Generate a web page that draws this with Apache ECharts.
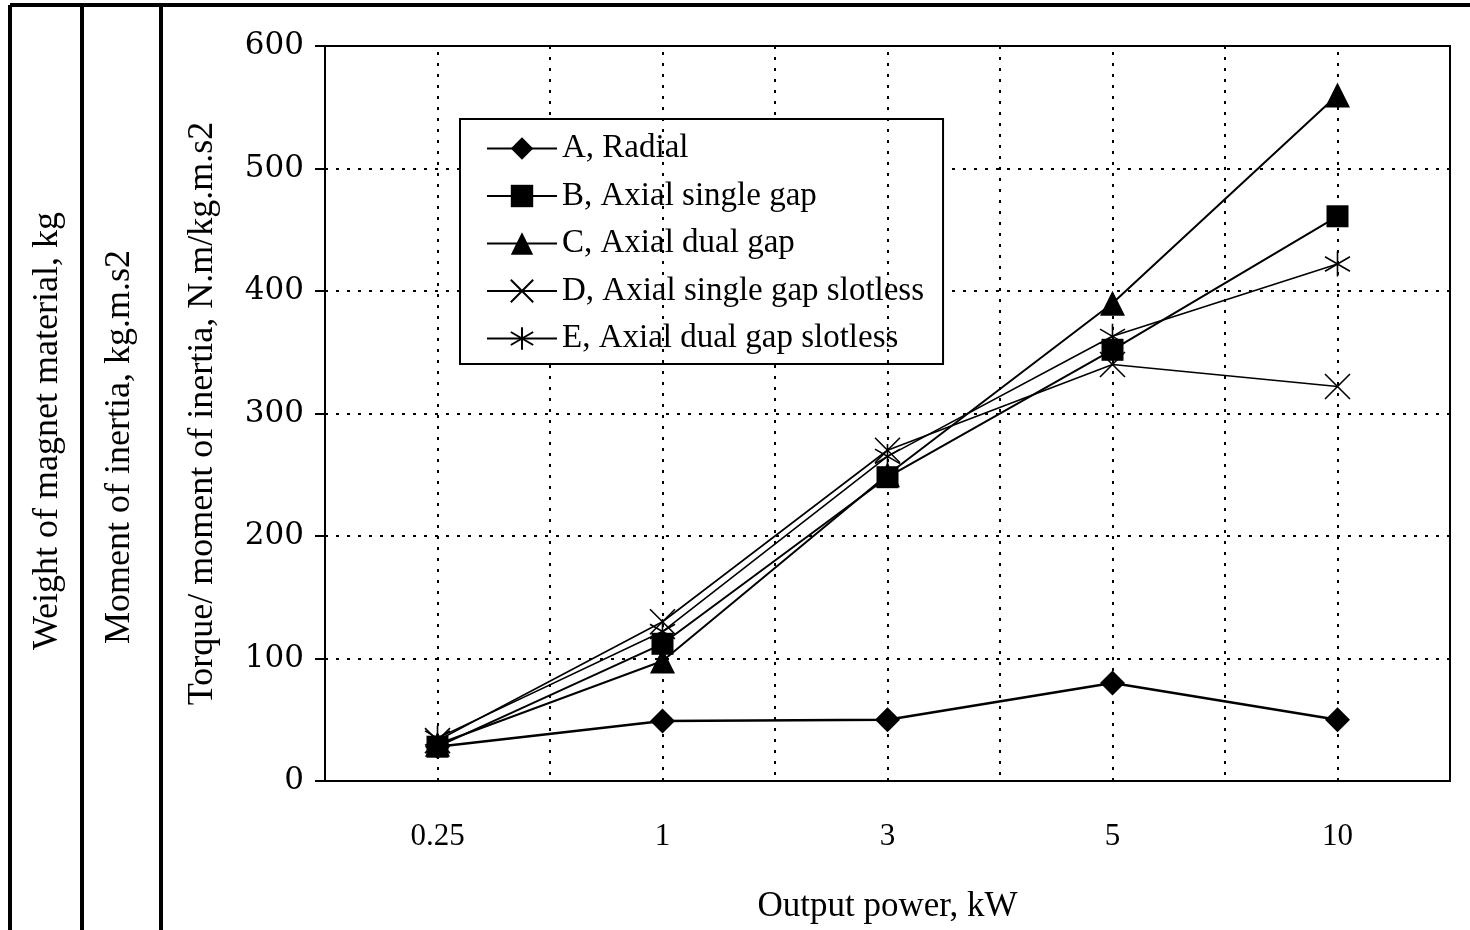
<!DOCTYPE html>
<html>
<head>
<meta charset="utf-8">
<script src="https://cdn.jsdelivr.net/npm/echarts@6/dist/echarts.min.js"></script>
<style>
  html, body { margin: 0; padding: 0; background: #fff; }
  #chart { width: 1470px; height: 930px; }
</style>
</head>
<body>
<div id="chart"></div>
<script>
const powers = ['0.25', '1', '3', '5', '10']
const radial = [28, 49, 50, 80, 50]
const axialSingle = [28, 112, 248, 352, 461]
const axialDual = [30, 98, 250, 390, 560]
const singleSlotless = [33, 130, 270, 340, 322]
const dualSlotless = [35, 122, 265, 363, 422]
const yTicks = [0, 100, 200, 300, 400, 500, 600]

const serif = 'Liberation Serif'
const dots = [3, 8]
const crossPath = 'path://M0 0 L10 10 M10 0 L0 10'
const starPath = 'path://M5 0 L5 10 M0 2.1 L10 7.9 M0 7.9 L10 2.1'

const chart = echarts.init(document.getElementById('chart'))

function lineSeries(name, data, symbol, size, width, extra) {
  return Object.assign({
    name: name,
    type: 'line',
    data: data,
    symbol: symbol,
    symbolSize: size,
    showSymbol: true,
    lineStyle: { color: '#000', width: width },
    itemStyle: { color: '#000', borderColor: '#000', borderWidth: 0 }
  }, extra || {})
}

const option = {
  animation: false,
  backgroundColor: '#fff',
  grid: {
    left: 325, right: 20, top: 46, bottom: 149,
    show: true, borderColor: '#000', borderWidth: 2
  },
  legend: {
    orient: 'vertical',
    left: 460, top: 119,
    padding: [13, 19, 9, 26],
    itemWidth: 70, itemHeight: 28, itemGap: 14.5,
    backgroundColor: '#fff', borderColor: '#000', borderWidth: 2,
    textStyle: { fontFamily: serif, fontSize: 33, color: '#000' }
  },
  xAxis: {
    type: 'category',
    data: powers,
    boundaryGap: true,
    name: 'Output power, kW',
    nameLocation: 'middle',
    nameGap: 108,
    nameTextStyle: { fontFamily: serif, fontSize: 35, color: '#000' },
    axisLine: { lineStyle: { color: '#000', width: 2 } },
    axisTick: { length: 12, lineStyle: { color: '#000', width: 2 } },
    axisLabel: { margin: 40, fontFamily: serif, fontSize: 31, color: '#000' },
    splitLine: { show: true, lineStyle: { color: '#000', width: 2, type: dots } }
  },
  yAxis: {
    type: 'value',
    min: yTicks[0], max: yTicks[yTicks.length - 1], interval: 100,
    name: 'Torque/ moment of inertia, N.m/kg.m.s2',
    nameLocation: 'middle',
    nameGap: 104,
    nameTextStyle: { fontFamily: serif, fontSize: 36, color: '#000' },
    axisLine: { show: true, lineStyle: { color: '#000', width: 2 } },
    axisTick: { show: true, length: 10, lineStyle: { color: '#000', width: 2 } },
    axisLabel: { margin: 21, fontFamily: 'DejaVu Serif', fontSize: 31, color: '#000' },
    splitLine: { show: true, lineStyle: { color: '#000', width: 2, type: dots } }
  },
  graphic: [
    { type: 'line', shape: { x1: 10, y1: 5, x2: 1470, y2: 5 }, style: { stroke: '#000', lineWidth: 4 } },
    { type: 'line', shape: { x1: 10, y1: 5, x2: 10, y2: 930 }, style: { stroke: '#000', lineWidth: 4 } },
    { type: 'line', shape: { x1: 82, y1: 5, x2: 82, y2: 930 }, style: { stroke: '#000', lineWidth: 4 } },
    { type: 'line', shape: { x1: 161, y1: 5, x2: 161, y2: 930 }, style: { stroke: '#000', lineWidth: 4 } },
    {
      type: 'text', x: 48, y: 431, rotation: Math.PI / 2,
      style: { text: 'Weight of magnet material, kg', fontFamily: serif, fontSize: 36, fill: '#000', align: 'center', verticalAlign: 'middle' }
    },
    {
      type: 'text', x: 120, y: 447, rotation: Math.PI / 2,
      style: { text: 'Moment of inertia, kg.m.s2', fontFamily: serif, fontSize: 36, fill: '#000', align: 'center', verticalAlign: 'middle' }
    }
  ],
  series: [
    lineSeries('A, Radial', radial, 'diamond', 25, 2.5, {
      markLine: {
        silent: true,
        symbol: 'none',
        label: { show: false },
        lineStyle: { color: '#000', width: 2, type: dots },
        data: powers.map(p => ({ xAxis: p }))
      }
    }),
    lineSeries('B, Axial single gap', axialSingle, 'rect', 22, 2),
    lineSeries('C, Axial dual gap', axialDual, 'triangle', 25, 2),
    lineSeries('D, Axial single gap slotless', singleSlotless, crossPath, 25, 1.6, {
      itemStyle: { color: 'none', borderColor: '#000', borderWidth: 1.6 }
    }),
    lineSeries('E, Axial dual gap slotless', dualSlotless, starPath, 25, 1.6, {
      itemStyle: { color: 'none', borderColor: '#000', borderWidth: 1.6 }
    })
  ]
}

chart.setOption(option)
</script>
</body>
</html>
